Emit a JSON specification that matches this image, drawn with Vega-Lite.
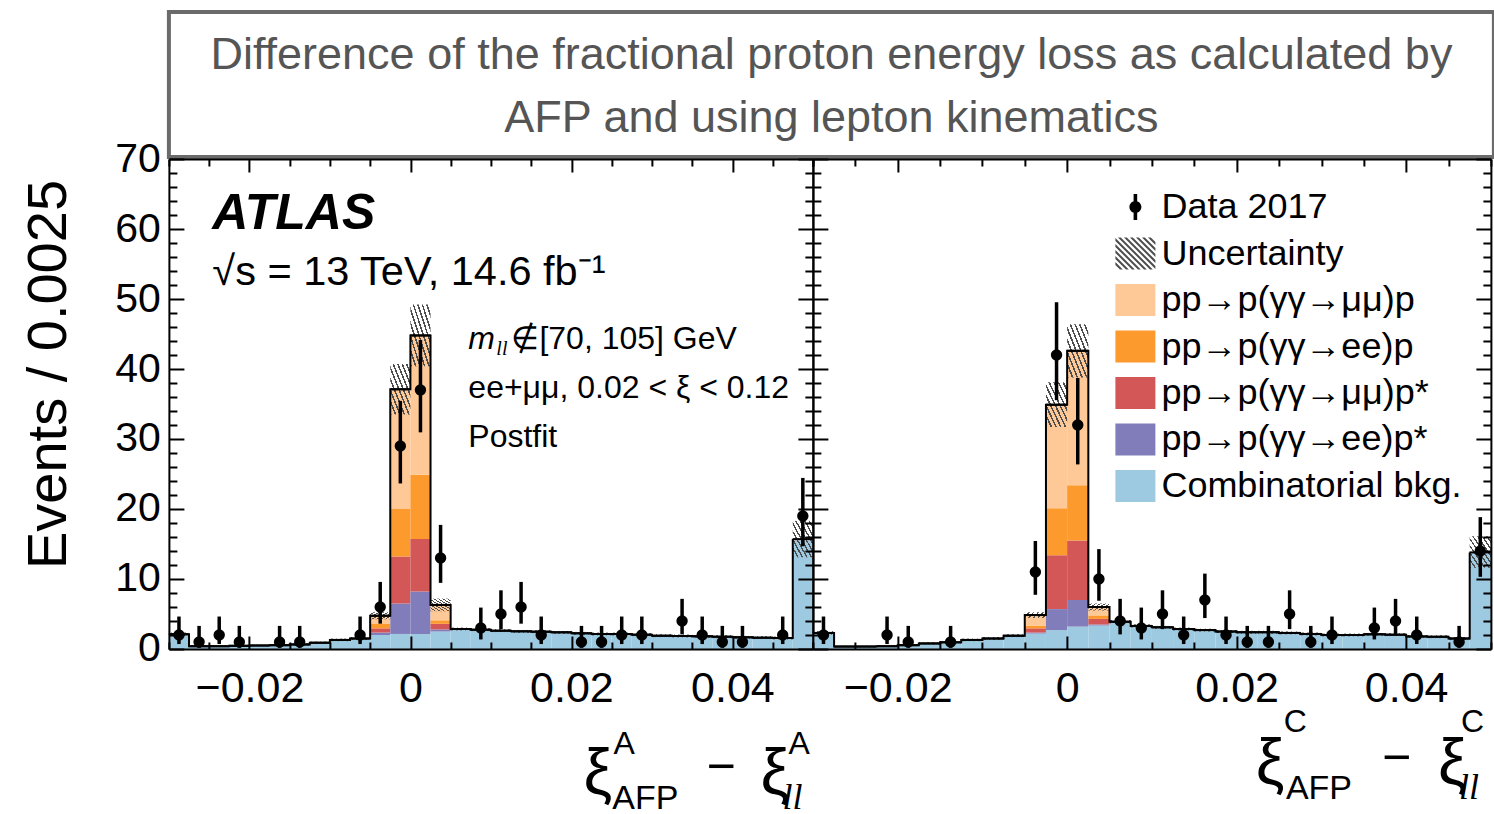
{
  "$schema": "https://vega.github.io/schema/vega-lite/v6.json",
  "padding": {"left": 19.9, "top": 10, "right": 0, "bottom": 0},
  "autosize": {"type": "pad"},
  "config": {
    "view": {"stroke": null},
    "font": "Liberation Sans",
    "axis": {"grid": false, "tickColor": "black", "tickWidth": 2, "domainColor": "black", "domainWidth": 2, "labelFont": "Liberation Sans", "labelColor": "black", "labelFontSize": 41, "titleFont": "Liberation Sans", "titleColor": "black", "titleFontWeight": "normal"}
  },
  "datasets": {
    "comps": [
      {"k": "cb", "o": 0, "name": "Combinatorial bkg."},
      {"k": "eeps", "o": 1, "name": "pp→p(γγ→ee)p*"},
      {"k": "mmps", "o": 2, "name": "pp→p(γγ→μμ)p*"},
      {"k": "eep", "o": 3, "name": "pp→p(γγ→ee)p"},
      {"k": "mmp", "o": 4, "name": "pp→p(γγ→μμ)p"}
    ],
    "binsA": [
      {"b": 0, "x0": -0.03, "x1": -0.0275, "cb": 2.1, "eeps": 0, "mmps": 0, "eep": 0, "mmp": 0, "tot": 2.1, "ulo": 1.85, "uhi": 2.35},
      {"b": 1, "x0": -0.0275, "x1": -0.025, "cb": 0.4, "eeps": 0, "mmps": 0, "eep": 0, "mmp": 0, "tot": 0.4, "ulo": 0.3, "uhi": 0.5},
      {"b": 2, "x0": -0.025, "x1": -0.0225, "cb": 0.4, "eeps": 0, "mmps": 0, "eep": 0, "mmp": 0, "tot": 0.4, "ulo": 0.3, "uhi": 0.5},
      {"b": 3, "x0": -0.0225, "x1": -0.02, "cb": 0.45, "eeps": 0, "mmps": 0, "eep": 0, "mmp": 0, "tot": 0.45, "ulo": 0.35, "uhi": 0.55},
      {"b": 4, "x0": -0.02, "x1": -0.0175, "cb": 0.5, "eeps": 0, "mmps": 0, "eep": 0, "mmp": 0, "tot": 0.5, "ulo": 0.4, "uhi": 0.6},
      {"b": 5, "x0": -0.0175, "x1": -0.015, "cb": 0.55, "eeps": 0, "mmps": 0, "eep": 0, "mmp": 0, "tot": 0.55, "ulo": 0.45, "uhi": 0.65},
      {"b": 6, "x0": -0.015, "x1": -0.0125, "cb": 0.65, "eeps": 0, "mmps": 0, "eep": 0, "mmp": 0, "tot": 0.65, "ulo": 0.5, "uhi": 0.8},
      {"b": 7, "x0": -0.0125, "x1": -0.01, "cb": 0.9, "eeps": 0, "mmps": 0, "eep": 0, "mmp": 0, "tot": 0.9, "ulo": 0.75, "uhi": 1.05},
      {"b": 8, "x0": -0.01, "x1": -0.0075, "cb": 1.3, "eeps": 0, "mmps": 0, "eep": 0, "mmp": 0, "tot": 1.3, "ulo": 1.12, "uhi": 1.48},
      {"b": 9, "x0": -0.0075, "x1": -0.005, "cb": 1.5, "eeps": 0, "mmps": 0, "eep": 0, "mmp": 0, "tot": 1.5, "ulo": 1.3, "uhi": 1.7},
      {"b": 10, "x0": -0.005, "x1": -0.0025, "cb": 2.0, "eeps": 0.35, "mmps": 0.6, "eep": 0.7, "mmp": 1.1, "tot": 4.75, "ulo": 4.25, "uhi": 5.25},
      {"b": 11, "x0": -0.0025, "x1": 0, "cb": 2.15, "eeps": 4.35, "mmps": 6.7, "eep": 6.8, "mmp": 17.1, "tot": 37.1, "ulo": 33.5, "uhi": 40.7},
      {"b": 12, "x0": 0, "x1": 0.0025, "cb": 2.15, "eeps": 6.05, "mmps": 7.5, "eep": 9.2, "mmp": 19.9, "tot": 44.8, "ulo": 40.4, "uhi": 49.2},
      {"b": 13, "x0": 0.0025, "x1": 0.005, "cb": 2.5, "eeps": 0.3, "mmps": 0.8, "eep": 0.5, "mmp": 2.2, "tot": 6.3, "ulo": 5.4, "uhi": 7.2},
      {"b": 14, "x0": 0.005, "x1": 0.0075, "cb": 2.86, "eeps": 0, "mmps": 0, "eep": 0, "mmp": 0, "tot": 2.86, "ulo": 2.66, "uhi": 3.06},
      {"b": 15, "x0": 0.0075, "x1": 0.01, "cb": 2.76, "eeps": 0, "mmps": 0, "eep": 0, "mmp": 0, "tot": 2.76, "ulo": 2.56, "uhi": 2.96},
      {"b": 16, "x0": 0.01, "x1": 0.0125, "cb": 2.62, "eeps": 0, "mmps": 0, "eep": 0, "mmp": 0, "tot": 2.62, "ulo": 2.42, "uhi": 2.82},
      {"b": 17, "x0": 0.0125, "x1": 0.015, "cb": 2.52, "eeps": 0, "mmps": 0, "eep": 0, "mmp": 0, "tot": 2.52, "ulo": 2.32, "uhi": 2.72},
      {"b": 18, "x0": 0.015, "x1": 0.0175, "cb": 2.48, "eeps": 0, "mmps": 0, "eep": 0, "mmp": 0, "tot": 2.48, "ulo": 2.28, "uhi": 2.68},
      {"b": 19, "x0": 0.0175, "x1": 0.02, "cb": 2.38, "eeps": 0, "mmps": 0, "eep": 0, "mmp": 0, "tot": 2.38, "ulo": 2.18, "uhi": 2.58},
      {"b": 20, "x0": 0.02, "x1": 0.0225, "cb": 2.24, "eeps": 0, "mmps": 0, "eep": 0, "mmp": 0, "tot": 2.24, "ulo": 2.04, "uhi": 2.44},
      {"b": 21, "x0": 0.0225, "x1": 0.025, "cb": 2.14, "eeps": 0, "mmps": 0, "eep": 0, "mmp": 0, "tot": 2.14, "ulo": 1.94, "uhi": 2.34},
      {"b": 22, "x0": 0.025, "x1": 0.0275, "cb": 2.14, "eeps": 0, "mmps": 0, "eep": 0, "mmp": 0, "tot": 2.14, "ulo": 1.94, "uhi": 2.34},
      {"b": 23, "x0": 0.0275, "x1": 0.03, "cb": 2.05, "eeps": 0, "mmps": 0, "eep": 0, "mmp": 0, "tot": 2.05, "ulo": 1.85, "uhi": 2.25},
      {"b": 24, "x0": 0.03, "x1": 0.0325, "cb": 1.9, "eeps": 0, "mmps": 0, "eep": 0, "mmp": 0, "tot": 1.9, "ulo": 1.7, "uhi": 2.1},
      {"b": 25, "x0": 0.0325, "x1": 0.035, "cb": 1.86, "eeps": 0, "mmps": 0, "eep": 0, "mmp": 0, "tot": 1.86, "ulo": 1.66, "uhi": 2.06},
      {"b": 26, "x0": 0.035, "x1": 0.0375, "cb": 1.81, "eeps": 0, "mmps": 0, "eep": 0, "mmp": 0, "tot": 1.81, "ulo": 1.61, "uhi": 2.01},
      {"b": 27, "x0": 0.0375, "x1": 0.04, "cb": 1.76, "eeps": 0, "mmps": 0, "eep": 0, "mmp": 0, "tot": 1.76, "ulo": 1.56, "uhi": 1.96},
      {"b": 28, "x0": 0.04, "x1": 0.0425, "cb": 1.67, "eeps": 0, "mmps": 0, "eep": 0, "mmp": 0, "tot": 1.67, "ulo": 1.47, "uhi": 1.87},
      {"b": 29, "x0": 0.0425, "x1": 0.045, "cb": 1.62, "eeps": 0, "mmps": 0, "eep": 0, "mmp": 0, "tot": 1.62, "ulo": 1.42, "uhi": 1.82},
      {"b": 30, "x0": 0.045, "x1": 0.0475, "cb": 1.57, "eeps": 0, "mmps": 0, "eep": 0, "mmp": 0, "tot": 1.57, "ulo": 1.37, "uhi": 1.77},
      {"b": 31, "x0": 0.0475, "x1": 0.05, "cb": 15.55, "eeps": 0, "mmps": 0.15, "eep": 0, "mmp": 0, "tot": 15.7, "ulo": 13.1, "uhi": 18.3}
    ],
    "binsC": [
      {"b": 0, "x0": -0.03, "x1": -0.0275, "cb": 2.3, "eeps": 0, "mmps": 0, "eep": 0, "mmp": 0, "tot": 2.3, "ulo": 2.05, "uhi": 2.55},
      {"b": 1, "x0": -0.0275, "x1": -0.025, "cb": 0.35, "eeps": 0, "mmps": 0, "eep": 0, "mmp": 0, "tot": 0.35, "ulo": 0.25, "uhi": 0.45},
      {"b": 2, "x0": -0.025, "x1": -0.0225, "cb": 0.35, "eeps": 0, "mmps": 0, "eep": 0, "mmp": 0, "tot": 0.35, "ulo": 0.25, "uhi": 0.45},
      {"b": 3, "x0": -0.0225, "x1": -0.02, "cb": 0.4, "eeps": 0, "mmps": 0, "eep": 0, "mmp": 0, "tot": 0.4, "ulo": 0.3, "uhi": 0.5},
      {"b": 4, "x0": -0.02, "x1": -0.0175, "cb": 0.55, "eeps": 0, "mmps": 0, "eep": 0, "mmp": 0, "tot": 0.55, "ulo": 0.45, "uhi": 0.65},
      {"b": 5, "x0": -0.0175, "x1": -0.015, "cb": 0.8, "eeps": 0, "mmps": 0, "eep": 0, "mmp": 0, "tot": 0.8, "ulo": 0.65, "uhi": 0.95},
      {"b": 6, "x0": -0.015, "x1": -0.0125, "cb": 0.95, "eeps": 0, "mmps": 0, "eep": 0, "mmp": 0, "tot": 0.95, "ulo": 0.8, "uhi": 1.1},
      {"b": 7, "x0": -0.0125, "x1": -0.01, "cb": 1.3, "eeps": 0, "mmps": 0, "eep": 0, "mmp": 0, "tot": 1.3, "ulo": 1.12, "uhi": 1.48},
      {"b": 8, "x0": -0.01, "x1": -0.0075, "cb": 1.5, "eeps": 0, "mmps": 0, "eep": 0, "mmp": 0, "tot": 1.5, "ulo": 1.3, "uhi": 1.7},
      {"b": 9, "x0": -0.0075, "x1": -0.005, "cb": 1.9, "eeps": 0, "mmps": 0, "eep": 0, "mmp": 0, "tot": 1.9, "ulo": 1.7, "uhi": 2.1},
      {"b": 10, "x0": -0.005, "x1": -0.0025, "cb": 2.2, "eeps": 0.15, "mmps": 0.6, "eep": 0.4, "mmp": 1.5, "tot": 4.85, "ulo": 4.45, "uhi": 5.25},
      {"b": 11, "x0": -0.0025, "x1": 0, "cb": 2.7, "eeps": 3.0, "mmps": 7.7, "eep": 6.7, "mmp": 14.8, "tot": 34.9, "ulo": 31.7, "uhi": 38.1},
      {"b": 12, "x0": 0, "x1": 0.0025, "cb": 3.2, "eeps": 3.8, "mmps": 8.5, "eep": 7.9, "mmp": 19.2, "tot": 42.6, "ulo": 38.8, "uhi": 46.4},
      {"b": 13, "x0": 0.0025, "x1": 0.005, "cb": 3.35, "eeps": 0.15, "mmps": 0.8, "eep": 0.5, "mmp": 1.2, "tot": 6.0, "ulo": 5.5, "uhi": 6.5},
      {"b": 14, "x0": 0.005, "x1": 0.0075, "cb": 3.9, "eeps": 0, "mmps": 0, "eep": 0, "mmp": 0, "tot": 3.9, "ulo": 3.65, "uhi": 4.15},
      {"b": 15, "x0": 0.0075, "x1": 0.01, "cb": 3.3, "eeps": 0, "mmps": 0, "eep": 0, "mmp": 0, "tot": 3.3, "ulo": 3.08, "uhi": 3.52},
      {"b": 16, "x0": 0.01, "x1": 0.0125, "cb": 3.1, "eeps": 0, "mmps": 0, "eep": 0, "mmp": 0, "tot": 3.1, "ulo": 2.9, "uhi": 3.3},
      {"b": 17, "x0": 0.0125, "x1": 0.015, "cb": 2.85, "eeps": 0, "mmps": 0, "eep": 0, "mmp": 0, "tot": 2.85, "ulo": 2.65, "uhi": 3.05},
      {"b": 18, "x0": 0.015, "x1": 0.0175, "cb": 2.7, "eeps": 0, "mmps": 0, "eep": 0, "mmp": 0, "tot": 2.7, "ulo": 2.5, "uhi": 2.9},
      {"b": 19, "x0": 0.0175, "x1": 0.02, "cb": 2.5, "eeps": 0, "mmps": 0, "eep": 0, "mmp": 0, "tot": 2.5, "ulo": 2.3, "uhi": 2.7},
      {"b": 20, "x0": 0.02, "x1": 0.0225, "cb": 2.4, "eeps": 0, "mmps": 0, "eep": 0, "mmp": 0, "tot": 2.4, "ulo": 2.2, "uhi": 2.6},
      {"b": 21, "x0": 0.0225, "x1": 0.025, "cb": 2.4, "eeps": 0, "mmps": 0, "eep": 0, "mmp": 0, "tot": 2.4, "ulo": 2.2, "uhi": 2.6},
      {"b": 22, "x0": 0.025, "x1": 0.0275, "cb": 2.3, "eeps": 0, "mmps": 0, "eep": 0, "mmp": 0, "tot": 2.3, "ulo": 2.1, "uhi": 2.5},
      {"b": 23, "x0": 0.0275, "x1": 0.03, "cb": 2.15, "eeps": 0, "mmps": 0, "eep": 0, "mmp": 0, "tot": 2.15, "ulo": 1.95, "uhi": 2.35},
      {"b": 24, "x0": 0.03, "x1": 0.0325, "cb": 2.0, "eeps": 0, "mmps": 0, "eep": 0, "mmp": 0, "tot": 2.0, "ulo": 1.8, "uhi": 2.2},
      {"b": 25, "x0": 0.0325, "x1": 0.035, "cb": 2.0, "eeps": 0, "mmps": 0, "eep": 0, "mmp": 0, "tot": 2.0, "ulo": 1.8, "uhi": 2.2},
      {"b": 26, "x0": 0.035, "x1": 0.0375, "cb": 2.1, "eeps": 0, "mmps": 0, "eep": 0, "mmp": 0, "tot": 2.1, "ulo": 1.9, "uhi": 2.3},
      {"b": 27, "x0": 0.0375, "x1": 0.04, "cb": 2.05, "eeps": 0, "mmps": 0, "eep": 0, "mmp": 0, "tot": 2.05, "ulo": 1.85, "uhi": 2.25},
      {"b": 28, "x0": 0.04, "x1": 0.0425, "cb": 1.8, "eeps": 0, "mmps": 0, "eep": 0, "mmp": 0, "tot": 1.8, "ulo": 1.6, "uhi": 2.0},
      {"b": 29, "x0": 0.0425, "x1": 0.045, "cb": 1.75, "eeps": 0, "mmps": 0, "eep": 0, "mmp": 0, "tot": 1.75, "ulo": 1.55, "uhi": 1.95},
      {"b": 30, "x0": 0.045, "x1": 0.0475, "cb": 1.5, "eeps": 0, "mmps": 0, "eep": 0, "mmp": 0, "tot": 1.5, "ulo": 1.3, "uhi": 1.7},
      {"b": 31, "x0": 0.0475, "x1": 0.05, "cb": 13.7, "eeps": 0, "mmps": 0.1, "eep": 0, "mmp": 0, "tot": 13.8, "ulo": 11.6, "uhi": 16.1}
    ],
    "ptsA": [
      {"b": 0, "xc": -0.02875, "n": 2, "lo": 0.708, "hi": 4.638},
      {"b": 1, "xc": -0.02625, "n": 1, "lo": 0.173, "hi": 3.3},
      {"b": 2, "xc": -0.02375, "n": 2, "lo": 0.708, "hi": 4.638},
      {"b": 3, "xc": -0.02125, "n": 1, "lo": 0.173, "hi": 3.3},
      {"b": 5, "xc": -0.01625, "n": 1, "lo": 0.173, "hi": 3.3},
      {"b": 6, "xc": -0.01375, "n": 1, "lo": 0.173, "hi": 3.3},
      {"b": 9, "xc": -0.00625, "n": 2, "lo": 0.708, "hi": 4.638},
      {"b": 10, "xc": -0.00375, "n": 6, "lo": 3.62, "hi": 9.584},
      {"b": 11, "xc": -0.00125, "n": 29, "lo": 23.65, "hi": 35.45},
      {"b": 12, "xc": 0.00125, "n": 37, "lo": 30.95, "hi": 44.14},
      {"b": 13, "xc": 0.00375, "n": 13, "lo": 9.45, "hi": 17.73},
      {"b": 15, "xc": 0.00875, "n": 3, "lo": 1.367, "hi": 5.918},
      {"b": 16, "xc": 0.01125, "n": 5, "lo": 2.84, "hi": 8.382},
      {"b": 17, "xc": 0.01375, "n": 6, "lo": 3.62, "hi": 9.584},
      {"b": 18, "xc": 0.01625, "n": 2, "lo": 0.708, "hi": 4.638},
      {"b": 20, "xc": 0.02125, "n": 1, "lo": 0.173, "hi": 3.3},
      {"b": 21, "xc": 0.02375, "n": 1, "lo": 0.173, "hi": 3.3},
      {"b": 22, "xc": 0.02625, "n": 2, "lo": 0.708, "hi": 4.638},
      {"b": 23, "xc": 0.02875, "n": 2, "lo": 0.708, "hi": 4.638},
      {"b": 25, "xc": 0.03375, "n": 4, "lo": 2.086, "hi": 7.163},
      {"b": 26, "xc": 0.03625, "n": 2, "lo": 0.708, "hi": 4.638},
      {"b": 27, "xc": 0.03875, "n": 1, "lo": 0.173, "hi": 3.3},
      {"b": 28, "xc": 0.04125, "n": 1, "lo": 0.173, "hi": 3.3},
      {"b": 30, "xc": 0.04625, "n": 2, "lo": 0.708, "hi": 4.638},
      {"b": 31, "xc": 0.04875, "n": 19, "lo": 14.68, "hi": 24.44}
    ],
    "ptsC": [
      {"b": 0, "xc": -0.02875, "n": 2, "lo": 0.708, "hi": 4.638},
      {"b": 3, "xc": -0.02125, "n": 2, "lo": 0.708, "hi": 4.638},
      {"b": 4, "xc": -0.01875, "n": 1, "lo": 0.173, "hi": 3.3},
      {"b": 6, "xc": -0.01375, "n": 1, "lo": 0.173, "hi": 3.3},
      {"b": 10, "xc": -0.00375, "n": 11, "lo": 7.74, "hi": 15.43},
      {"b": 11, "xc": -0.00125, "n": 42, "lo": 35.55, "hi": 49.54},
      {"b": 12, "xc": 0.00125, "n": 32, "lo": 26.37, "hi": 38.72},
      {"b": 13, "xc": 0.00375, "n": 10, "lo": 6.891, "hi": 14.27},
      {"b": 14, "xc": 0.00625, "n": 4, "lo": 2.086, "hi": 7.163},
      {"b": 15, "xc": 0.00875, "n": 3, "lo": 1.367, "hi": 5.918},
      {"b": 16, "xc": 0.01125, "n": 5, "lo": 2.84, "hi": 8.382},
      {"b": 17, "xc": 0.01375, "n": 2, "lo": 0.708, "hi": 4.638},
      {"b": 18, "xc": 0.01625, "n": 7, "lo": 4.419, "hi": 10.77},
      {"b": 19, "xc": 0.01875, "n": 2, "lo": 0.708, "hi": 4.638},
      {"b": 20, "xc": 0.02125, "n": 1, "lo": 0.173, "hi": 3.3},
      {"b": 21, "xc": 0.02375, "n": 1, "lo": 0.173, "hi": 3.3},
      {"b": 22, "xc": 0.02625, "n": 5, "lo": 2.84, "hi": 8.382},
      {"b": 23, "xc": 0.02875, "n": 1, "lo": 0.173, "hi": 3.3},
      {"b": 24, "xc": 0.03125, "n": 2, "lo": 0.708, "hi": 4.638},
      {"b": 26, "xc": 0.03625, "n": 3, "lo": 1.367, "hi": 5.918},
      {"b": 27, "xc": 0.03875, "n": 4, "lo": 2.086, "hi": 7.163},
      {"b": 28, "xc": 0.04125, "n": 2, "lo": 0.708, "hi": 4.638},
      {"b": 30, "xc": 0.04625, "n": 1, "lo": 0.173, "hi": 3.3},
      {"b": 31, "xc": 0.04875, "n": 14, "lo": 10.31, "hi": 18.84}
    ]
  },
  "spacing": -24,
  "vconcat": [
    {
      "width": 1325,
      "height": 145,
      "view": {"stroke": "#6b6b6b", "strokeWidth": 4},
      "data": {"values": [{}]},
      "mark": {"type": "text", "text": ["Difference of the fractional proton energy loss as calculated by", "AFP and using lepton kinematics"], "fontSize": 45, "lineHeight": 63, "color": "#555555", "align": "center", "baseline": "middle", "font": "Liberation Sans", "dy": -29.5},
      "encoding": {
        "y": {"datum": 35, "type": "quantitative", "scale": {"domain": [0, 70], "nice": false},
          "axis": {"orient": "left", "values": [35], "labelExpr": "'70'", "labelColor": "transparent", "labelPadding": 23.5, "tickSize": -15, "tickColor": "transparent", "domain": false, "title": "E", "titleColor": "transparent", "titleFontSize": 56, "titleX": -96.5, "titleY": 72, "titleAngle": -90, "titleBaseline": "alphabetic"}}
      }
    },
    {
      "hconcat": [
        {
          "width": 644,
          "height": 490,
          "layer": [
            {
              "data": {"name": "binsA"},
              "transform": [
                {"fold": ["cb", "eeps", "mmps", "eep", "mmp"], "as": ["k", "v"]},
                {"lookup": "k", "from": {"data": {"name": "comps"}, "key": "k", "fields": ["o", "name"]}},
                {"stack": "v", "groupby": ["b"], "sort": [{"field": "o", "order": "ascending"}], "as": ["v0", "v1"]}
              ],
              "mark": {"type": "bar"},
              "encoding": {
                "x": {"field": "x0", "type": "quantitative", "scale": {"domain": [-0.03, 0.05], "nice": false, "zero": false},
                  "axis": {"orient": "bottom", "values": [-0.03, -0.025, -0.02, -0.015, -0.01, -0.005, 0, 0.005, 0.01, 0.015, 0.02, 0.025, 0.03, 0.035, 0.04, 0.045, 0.05], "labelExpr": "datum.value === 0 ? '0' : datum.value === -0.02 ? '−0.02' : datum.value === 0.02 ? '0.02' : datum.value === 0.04 ? '0.04' : ''", "labelOverlap": false, "labelFlush": false, "labelFontSize": 43, "labelPadding": 32, "tickSize": {"condition": {"test": "datum.value === -0.02 || datum.value === 0 || datum.value === 0.02 || datum.value === 0.04", "value": -13}, "value": -7}, "title": null, "domain": true, "zindex": 1}},
                "x2": {"field": "x1"},
                "y": {"field": "v0", "type": "quantitative", "scale": {"domain": [0, 70], "nice": false},
                  "axis": {"orient": "left", "values": [0, 2, 4, 6, 8, 10, 12, 14, 16, 18, 20, 22, 24, 26, 28, 30, 32, 34, 36, 38, 40, 42, 44, 46, 48, 50, 52, 54, 56, 58, 60, 62, 64, 66, 68, 70], "labelExpr": "datum.value % 10 === 0 ? '' + datum.value : ''", "labelOverlap": false, "labelFlush": false, "labelPadding": 23.5, "tickSize": {"condition": {"test": "datum.value % 10 === 0", "value": -15}, "value": -8}, "domain": true, "zindex": 1, "title": "Events / 0.0025", "titleFontSize": 56, "titleX": -103.5, "titleY": 215, "titleAngle": -90, "titleBaseline": "alphabetic"}},
                "y2": {"field": "v1"},
                "color": {"field": "name", "type": "nominal", "scale": {"domain": ["Data 2017", "Uncertainty", "pp→p(γγ→μμ)p", "pp→p(γγ→ee)p", "pp→p(γγ→μμ)p*", "pp→p(γγ→ee)p*", "Combinatorial bkg."], "range": ["#000000", "#4d4d4d", "#FFC997", "#FD9A2E", "#D35757", "#807DBA", "#9DCAE1"]}, "legend": null}
              }
            },
            {
              "data": {"name": "binsA"},
              "mark": {"type": "bar", "fill": {"gradient": "linear", "x1": 0, "y1": 1, "x2": 1, "y2": 0, "stops": [{"offset": 0, "color": "#4d4d4d"}, {"offset": 0.039, "color": "#4d4d4d"}, {"offset": 0.039, "color": "rgba(255,255,255,0)"}, {"offset": 0.111, "color": "rgba(255,255,255,0)"}, {"offset": 0.111, "color": "#4d4d4d"}, {"offset": 0.15, "color": "#4d4d4d"}, {"offset": 0.15, "color": "rgba(255,255,255,0)"}, {"offset": 0.222, "color": "rgba(255,255,255,0)"}, {"offset": 0.222, "color": "#4d4d4d"}, {"offset": 0.261, "color": "#4d4d4d"}, {"offset": 0.261, "color": "rgba(255,255,255,0)"}, {"offset": 0.333, "color": "rgba(255,255,255,0)"}, {"offset": 0.333, "color": "#4d4d4d"}, {"offset": 0.372, "color": "#4d4d4d"}, {"offset": 0.372, "color": "rgba(255,255,255,0)"}, {"offset": 0.444, "color": "rgba(255,255,255,0)"}, {"offset": 0.444, "color": "#4d4d4d"}, {"offset": 0.483, "color": "#4d4d4d"}, {"offset": 0.483, "color": "rgba(255,255,255,0)"}, {"offset": 0.556, "color": "rgba(255,255,255,0)"}, {"offset": 0.556, "color": "#4d4d4d"}, {"offset": 0.594, "color": "#4d4d4d"}, {"offset": 0.594, "color": "rgba(255,255,255,0)"}, {"offset": 0.667, "color": "rgba(255,255,255,0)"}, {"offset": 0.667, "color": "#4d4d4d"}, {"offset": 0.706, "color": "#4d4d4d"}, {"offset": 0.706, "color": "rgba(255,255,255,0)"}, {"offset": 0.778, "color": "rgba(255,255,255,0)"}, {"offset": 0.778, "color": "#4d4d4d"}, {"offset": 0.817, "color": "#4d4d4d"}, {"offset": 0.817, "color": "rgba(255,255,255,0)"}, {"offset": 0.889, "color": "rgba(255,255,255,0)"}, {"offset": 0.889, "color": "#4d4d4d"}, {"offset": 0.928, "color": "#4d4d4d"}, {"offset": 0.928, "color": "rgba(255,255,255,0)"}, {"offset": 1, "color": "rgba(255,255,255,0)"}]}},
              "encoding": {
                "x": {"field": "x0", "type": "quantitative",
                  "axis": {"orient": "top", "values": [-0.03, -0.025, -0.02, -0.015, -0.01, -0.005, 0, 0.005, 0.01, 0.015, 0.02, 0.025, 0.03, 0.035, 0.04, 0.045, 0.05], "labels": false, "tickSize": {"condition": {"test": "datum.value === -0.02 || datum.value === 0 || datum.value === 0.02 || datum.value === 0.04", "value": -13}, "value": -7}, "title": null, "domain": true, "zindex": 1}},
                "x2": {"field": "x1"},
                "y": {"field": "ulo", "type": "quantitative",
                  "axis": {"orient": "right", "values": [0, 2, 4, 6, 8, 10, 12, 14, 16, 18, 20, 22, 24, 26, 28, 30, 32, 34, 36, 38, 40, 42, 44, 46, 48, 50, 52, 54, 56, 58, 60, 62, 64, 66, 68, 70], "labels": false, "tickSize": {"condition": {"test": "datum.value % 10 === 0", "value": -15}, "value": -8}, "title": null, "domain": true, "zindex": 1}},
                "y2": {"field": "uhi"}
              }
            },
            {
              "data": {"name": "binsA"},
              "mark": {"type": "line", "interpolate": "step-after", "color": "black", "strokeWidth": 2},
              "encoding": {"x": {"field": "x0", "type": "quantitative", "axis": null}, "y": {"field": "tot", "type": "quantitative", "axis": null}}
            },
            {
              "data": {"name": "binsA"},
              "mark": {"type": "rule", "color": "black", "strokeWidth": 2},
              "encoding": {"x": {"field": "x0", "type": "quantitative", "axis": null}, "x2": {"field": "x1"}, "y": {"field": "tot", "type": "quantitative", "axis": null}}
            },
            {
              "data": {"name": "ptsA"},
              "mark": {"type": "rule", "color": "black", "strokeWidth": 3.5},
              "encoding": {"x": {"field": "xc", "type": "quantitative", "axis": null}, "y": {"field": "lo", "type": "quantitative", "axis": null}, "y2": {"field": "hi"}}
            },
            {
              "data": {"name": "ptsA"},
              "mark": {"type": "point", "filled": true, "color": "black", "size": 130, "opacity": 1},
              "encoding": {"x": {"field": "xc", "type": "quantitative", "axis": null}, "y": {"field": "n", "type": "quantitative", "axis": null}}
            },
            {"data": {"values": [{}]}, "mark": {"type": "text", "text": "ATLAS", "align": "left", "baseline": "alphabetic", "fontSize": 50, "fontStyle": "italic", "fontWeight": "bold", "color": "black"}, "encoding": {"x": {"datum": -0.0246, "type": "quantitative", "axis": null}, "y": {"datum": 59.96, "type": "quantitative", "axis": null}}},
            {"data": {"values": [{}]}, "mark": {"type": "text", "text": "√s = 13 TeV, 14.6 fb⁻¹", "align": "left", "baseline": "alphabetic", "fontSize": 41.5, "color": "black"}, "encoding": {"x": {"datum": -0.0246, "type": "quantitative", "axis": null}, "y": {"datum": 51.96, "type": "quantitative", "axis": null}}},
            {"data": {"values": [{}]}, "mark": {"type": "text", "text": "m", "align": "left", "baseline": "alphabetic", "fontSize": 32, "fontStyle": "italic", "color": "black"}, "encoding": {"x": {"datum": 0.0072, "type": "quantitative", "axis": null}, "y": {"datum": 42.81, "type": "quantitative", "axis": null}}},
            {"data": {"values": [{}]}, "mark": {"type": "text", "text": "ll", "align": "left", "baseline": "alphabetic", "fontSize": 20, "fontStyle": "italic", "font": "Liberation Serif", "color": "black"}, "encoding": {"x": {"datum": 0.01068, "type": "quantitative", "axis": null}, "y": {"datum": 41.96, "type": "quantitative", "axis": null}}},
            {"data": {"values": [{}]}, "mark": {"type": "text", "text": "∉[70, 105] GeV", "align": "left", "baseline": "alphabetic", "fontSize": 32, "color": "black"}, "encoding": {"x": {"datum": 0.01255, "type": "quantitative", "axis": null}, "y": {"datum": 42.81, "type": "quantitative", "axis": null}}},
            {"data": {"values": [{}]}, "mark": {"type": "text", "text": "ee+μμ, 0.02 < ξ < 0.12", "align": "left", "baseline": "alphabetic", "fontSize": 32, "color": "black"}, "encoding": {"x": {"datum": 0.0072, "type": "quantitative", "axis": null}, "y": {"datum": 35.81, "type": "quantitative", "axis": null}}},
            {"data": {"values": [{}]}, "mark": {"type": "text", "text": "Postfit", "align": "left", "baseline": "alphabetic", "fontSize": 32, "color": "black"}, "encoding": {"x": {"datum": 0.0072, "type": "quantitative", "axis": null}, "y": {"datum": 28.81, "type": "quantitative", "axis": null}}},
            {"data": {"values": [{}]}, "mark": {"type": "text", "text": "ξ", "align": "left", "baseline": "alphabetic", "fontSize": 64, "color": "black"}, "encoding": {"x": {"datum": 0.02149, "type": "quantitative", "axis": null}, "y": {"datum": -20.76, "type": "quantitative", "axis": null}}},
            {"data": {"values": [{}]}, "mark": {"type": "text", "text": "A", "align": "left", "baseline": "alphabetic", "fontSize": 32, "color": "black"}, "encoding": {"x": {"datum": 0.02522, "type": "quantitative", "axis": null}, "y": {"datum": -15.04, "type": "quantitative", "axis": null}}},
            {"data": {"values": [{}]}, "mark": {"type": "text", "text": "AFP", "align": "left", "baseline": "alphabetic", "fontSize": 34, "color": "black"}, "encoding": {"x": {"datum": 0.02509, "type": "quantitative", "axis": null}, "y": {"datum": -22.9, "type": "quantitative", "axis": null}}},
            {"data": {"values": [{}]}, "mark": {"type": "text", "text": "−", "align": "left", "baseline": "alphabetic", "fontSize": 50, "color": "black"}, "encoding": {"x": {"datum": 0.03677, "type": "quantitative", "axis": null}, "y": {"datum": -19.19, "type": "quantitative", "axis": null}}},
            {"data": {"values": [{}]}, "mark": {"type": "text", "text": "ξ", "align": "left", "baseline": "alphabetic", "fontSize": 64, "color": "black"}, "encoding": {"x": {"datum": 0.04348, "type": "quantitative", "axis": null}, "y": {"datum": -20.76, "type": "quantitative", "axis": null}}},
            {"data": {"values": [{}]}, "mark": {"type": "text", "text": "A", "align": "left", "baseline": "alphabetic", "fontSize": 32, "color": "black"}, "encoding": {"x": {"datum": 0.04696, "type": "quantitative", "axis": null}, "y": {"datum": -15.04, "type": "quantitative", "axis": null}}},
            {"data": {"values": [{}]}, "mark": {"type": "text", "text": "ll", "align": "left", "baseline": "alphabetic", "fontSize": 36, "fontStyle": "italic", "font": "Liberation Serif", "color": "black"}, "encoding": {"x": {"datum": 0.04621, "type": "quantitative", "axis": null}, "y": {"datum": -22.9, "type": "quantitative", "axis": null}}}
          ],
          "resolve": {"axis": {"x": "independent", "y": "independent"}}
        },
        {
          "width": 678,
          "height": 490,
          "layer": [
            {
              "data": {"name": "binsC"},
              "transform": [
                {"fold": ["cb", "eeps", "mmps", "eep", "mmp"], "as": ["k", "v"]},
                {"lookup": "k", "from": {"data": {"name": "comps"}, "key": "k", "fields": ["o", "name"]}},
                {"stack": "v", "groupby": ["b"], "sort": [{"field": "o", "order": "ascending"}], "as": ["v0", "v1"]}
              ],
              "mark": {"type": "bar"},
              "encoding": {
                "x": {"field": "x0", "type": "quantitative", "scale": {"domain": [-0.03, 0.05], "nice": false, "zero": false},
                  "axis": {"orient": "bottom", "values": [-0.03, -0.025, -0.02, -0.015, -0.01, -0.005, 0, 0.005, 0.01, 0.015, 0.02, 0.025, 0.03, 0.035, 0.04, 0.045, 0.05], "labelExpr": "datum.value === 0 ? '0' : datum.value === -0.02 ? '−0.02' : datum.value === 0.02 ? '0.02' : datum.value === 0.04 ? '0.04' : ''", "labelOverlap": false, "labelFlush": false, "labelFontSize": 43, "labelPadding": 32, "tickSize": {"condition": {"test": "datum.value === -0.02 || datum.value === 0 || datum.value === 0.02 || datum.value === 0.04", "value": -13}, "value": -7}, "title": null, "domain": true, "zindex": 1}},
                "x2": {"field": "x1"},
                "y": {"field": "v0", "type": "quantitative", "scale": {"domain": [0, 70], "nice": false},
                  "axis": {"orient": "left", "values": [0, 2, 4, 6, 8, 10, 12, 14, 16, 18, 20, 22, 24, 26, 28, 30, 32, 34, 36, 38, 40, 42, 44, 46, 48, 50, 52, 54, 56, 58, 60, 62, 64, 66, 68, 70], "labels": false, "tickSize": {"condition": {"test": "datum.value % 10 === 0", "value": -15}, "value": -8}, "domain": true, "zindex": 1, "title": null}},
                "y2": {"field": "v1"},
                "color": {"field": "name", "type": "nominal", "scale": {"domain": ["Data 2017", "Uncertainty", "pp→p(γγ→μμ)p", "pp→p(γγ→ee)p", "pp→p(γγ→μμ)p*", "pp→p(γγ→ee)p*", "Combinatorial bkg."], "range": ["#000000", "#4d4d4d", "#FFC997", "#FD9A2E", "#D35757", "#807DBA", "#9DCAE1"]},
                  "legend": {"orient": "none", "legendX": 302.5, "legendY": 28, "title": null, "direction": "vertical", "labelFont": "Liberation Sans", "labelFontSize": 36, "labelColor": "black", "labelLimit": 0, "symbolSize": 1600, "symbolType": "M-1,-0.8H1V0.8H-1Z", "symbolStrokeWidth": 0, "rowPadding": 8.5, "labelOffset": 6,
                    "encode": {"symbols": {
                      "update": {
                        "shape": [
                          {"test": "datum.value === 'Data 2017'", "value": "M-0.09,-0.65H0.09V0.65H-0.09Z M-0.3,0A0.3,0.3 0 1,1 0.3,0A0.3,0.3 0 1,1 -0.3,0Z"},
                          {"test": "datum.value === 'Uncertainty'", "value": "M-1,0.57L-0.77,0.8L-0.63,0.8L-1,0.43Z M-1,0.27L-0.47,0.8L-0.33,0.8L-1,0.13Z M-1,-0.03L-0.17,0.8L-0.03,0.8L-1,-0.17Z M-1,-0.33L0.13,0.8L0.27,0.8L-1,-0.47Z M-1,-0.63L0.43,0.8L0.57,0.8L-1,-0.77Z M-0.87,-0.8L-0.73,-0.8L0.87,0.8L0.73,0.8Z M-0.57,-0.8L-0.43,-0.8L1,0.63L1,0.77Z M-0.27,-0.8L-0.13,-0.8L1,0.33L1,0.47Z M0.03,-0.8L0.17,-0.8L1,0.03L1,0.17Z M0.33,-0.8L0.47,-0.8L1,-0.27L1,-0.13Z M0.63,-0.8L0.77,-0.8L1,-0.57L1,-0.43Z"},
                          {"value": "M-1,-0.8H1V0.8H-1Z"}
                        ]
                      }
                    }}}}
              }
            },
            {
              "data": {"name": "binsC"},
              "mark": {"type": "bar", "fill": {"gradient": "linear", "x1": 0, "y1": 1, "x2": 1, "y2": 0, "stops": [{"offset": 0, "color": "#4d4d4d"}, {"offset": 0.039, "color": "#4d4d4d"}, {"offset": 0.039, "color": "rgba(255,255,255,0)"}, {"offset": 0.111, "color": "rgba(255,255,255,0)"}, {"offset": 0.111, "color": "#4d4d4d"}, {"offset": 0.15, "color": "#4d4d4d"}, {"offset": 0.15, "color": "rgba(255,255,255,0)"}, {"offset": 0.222, "color": "rgba(255,255,255,0)"}, {"offset": 0.222, "color": "#4d4d4d"}, {"offset": 0.261, "color": "#4d4d4d"}, {"offset": 0.261, "color": "rgba(255,255,255,0)"}, {"offset": 0.333, "color": "rgba(255,255,255,0)"}, {"offset": 0.333, "color": "#4d4d4d"}, {"offset": 0.372, "color": "#4d4d4d"}, {"offset": 0.372, "color": "rgba(255,255,255,0)"}, {"offset": 0.444, "color": "rgba(255,255,255,0)"}, {"offset": 0.444, "color": "#4d4d4d"}, {"offset": 0.483, "color": "#4d4d4d"}, {"offset": 0.483, "color": "rgba(255,255,255,0)"}, {"offset": 0.556, "color": "rgba(255,255,255,0)"}, {"offset": 0.556, "color": "#4d4d4d"}, {"offset": 0.594, "color": "#4d4d4d"}, {"offset": 0.594, "color": "rgba(255,255,255,0)"}, {"offset": 0.667, "color": "rgba(255,255,255,0)"}, {"offset": 0.667, "color": "#4d4d4d"}, {"offset": 0.706, "color": "#4d4d4d"}, {"offset": 0.706, "color": "rgba(255,255,255,0)"}, {"offset": 0.778, "color": "rgba(255,255,255,0)"}, {"offset": 0.778, "color": "#4d4d4d"}, {"offset": 0.817, "color": "#4d4d4d"}, {"offset": 0.817, "color": "rgba(255,255,255,0)"}, {"offset": 0.889, "color": "rgba(255,255,255,0)"}, {"offset": 0.889, "color": "#4d4d4d"}, {"offset": 0.928, "color": "#4d4d4d"}, {"offset": 0.928, "color": "rgba(255,255,255,0)"}, {"offset": 1, "color": "rgba(255,255,255,0)"}]}},
              "encoding": {
                "x": {"field": "x0", "type": "quantitative",
                  "axis": {"orient": "top", "values": [-0.03, -0.025, -0.02, -0.015, -0.01, -0.005, 0, 0.005, 0.01, 0.015, 0.02, 0.025, 0.03, 0.035, 0.04, 0.045, 0.05], "labels": false, "tickSize": {"condition": {"test": "datum.value === -0.02 || datum.value === 0 || datum.value === 0.02 || datum.value === 0.04", "value": -13}, "value": -7}, "title": null, "domain": true, "zindex": 1}},
                "x2": {"field": "x1"},
                "y": {"field": "ulo", "type": "quantitative",
                  "axis": {"orient": "right", "values": [0, 2, 4, 6, 8, 10, 12, 14, 16, 18, 20, 22, 24, 26, 28, 30, 32, 34, 36, 38, 40, 42, 44, 46, 48, 50, 52, 54, 56, 58, 60, 62, 64, 66, 68, 70], "labels": false, "tickSize": {"condition": {"test": "datum.value % 10 === 0", "value": -15}, "value": -8}, "title": null, "domain": true, "zindex": 1}},
                "y2": {"field": "uhi"}
              }
            },
            {
              "data": {"name": "binsC"},
              "mark": {"type": "line", "interpolate": "step-after", "color": "black", "strokeWidth": 2},
              "encoding": {"x": {"field": "x0", "type": "quantitative", "axis": null}, "y": {"field": "tot", "type": "quantitative", "axis": null}}
            },
            {
              "data": {"name": "binsC"},
              "mark": {"type": "rule", "color": "black", "strokeWidth": 2},
              "encoding": {"x": {"field": "x0", "type": "quantitative", "axis": null}, "x2": {"field": "x1"}, "y": {"field": "tot", "type": "quantitative", "axis": null}}
            },
            {
              "data": {"name": "ptsC"},
              "mark": {"type": "rule", "color": "black", "strokeWidth": 3.5},
              "encoding": {"x": {"field": "xc", "type": "quantitative", "axis": null}, "y": {"field": "lo", "type": "quantitative", "axis": null}, "y2": {"field": "hi"}}
            },
            {
              "data": {"name": "ptsC"},
              "mark": {"type": "point", "filled": true, "color": "black", "size": 130, "opacity": 1},
              "encoding": {"x": {"field": "xc", "type": "quantitative", "axis": null}, "y": {"field": "n", "type": "quantitative", "axis": null}}
            },
            {"data": {"values": [{}]}, "mark": {"type": "text", "text": "ξ", "align": "left", "baseline": "alphabetic", "fontSize": 64, "color": "black"}, "encoding": {"x": {"datum": 0.02226, "type": "quantitative", "axis": null}, "y": {"datum": -19.33, "type": "quantitative", "axis": null}}},
            {"data": {"values": [{}]}, "mark": {"type": "text", "text": "C", "align": "left", "baseline": "alphabetic", "fontSize": 32, "color": "black"}, "encoding": {"x": {"datum": 0.02557, "type": "quantitative", "axis": null}, "y": {"datum": -11.9, "type": "quantitative", "axis": null}}},
            {"data": {"values": [{}]}, "mark": {"type": "text", "text": "AFP", "align": "left", "baseline": "alphabetic", "fontSize": 34, "color": "black"}, "encoding": {"x": {"datum": 0.02581, "type": "quantitative", "axis": null}, "y": {"datum": -21.47, "type": "quantitative", "axis": null}}},
            {"data": {"values": [{}]}, "mark": {"type": "text", "text": "−", "align": "left", "baseline": "alphabetic", "fontSize": 50, "color": "black"}, "encoding": {"x": {"datum": 0.03714, "type": "quantitative", "axis": null}, "y": {"datum": -17.9, "type": "quantitative", "axis": null}}},
            {"data": {"values": [{}]}, "mark": {"type": "text", "text": "ξ", "align": "left", "baseline": "alphabetic", "fontSize": 64, "color": "black"}, "encoding": {"x": {"datum": 0.04375, "type": "quantitative", "axis": null}, "y": {"datum": -19.33, "type": "quantitative", "axis": null}}},
            {"data": {"values": [{}]}, "mark": {"type": "text", "text": "C", "align": "left", "baseline": "alphabetic", "fontSize": 32, "color": "black"}, "encoding": {"x": {"datum": 0.04647, "type": "quantitative", "axis": null}, "y": {"datum": -11.9, "type": "quantitative", "axis": null}}},
            {"data": {"values": [{}]}, "mark": {"type": "text", "text": "ll", "align": "left", "baseline": "alphabetic", "fontSize": 36, "fontStyle": "italic", "font": "Liberation Serif", "color": "black"}, "encoding": {"x": {"datum": 0.04623, "type": "quantitative", "axis": null}, "y": {"datum": -21.47, "type": "quantitative", "axis": null}}}
          ],
          "resolve": {"axis": {"x": "independent", "y": "independent"}}
        }
      ],
      "spacing": 0,
      "bounds": "flush",
      "resolve": {"scale": {"color": "independent"}, "legend": {"color": "independent"}}
    }
  ]
}
